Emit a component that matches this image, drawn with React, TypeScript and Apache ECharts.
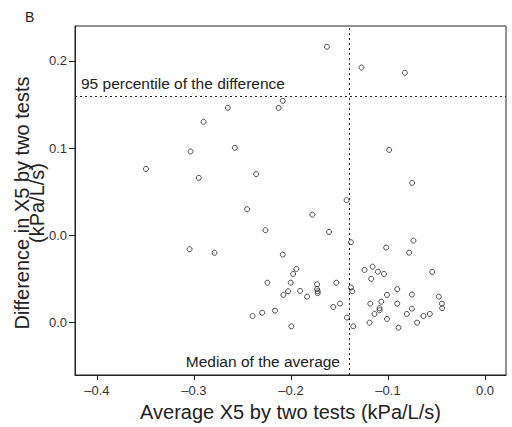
import React, { useEffect, useRef } from "react";
import * as echarts from "echarts";

const avgX = [
  -0.3495, -0.3035, -0.295, -0.2901, -0.2651, -0.2579, -0.2359, -0.2127, -0.2085, -0.1629,
  -0.1273, -0.0826, -0.0988, -0.0751, -0.1427, -0.178, -0.1608, -0.1382, -0.1019, -0.0738,
  -0.0782, -0.2452, -0.2263, -0.3045, -0.2788, -0.2085, -0.2243, -0.2078, -0.203, -0.2003,
  -0.1978, -0.1944, -0.1996, -0.2397, -0.2297, -0.2164, -0.1906, -0.1834, -0.1731, -0.1731,
  -0.1725, -0.1725, -0.1533, -0.1564, -0.1495, -0.1382, -0.1368, -0.1423, -0.1358, -0.1242,
  -0.1159, -0.1104, -0.1042, -0.1173, -0.0545, -0.0905, -0.1011, -0.0754, -0.0476, -0.1183,
  -0.107, -0.0905, -0.0445, -0.1087, -0.1087, -0.0754, -0.0442, -0.1139, -0.0806, -0.0635,
  -0.0569, -0.1011, -0.119, -0.07, -0.0892,
];
const diffY = [
  0.1381, 0.1481, 0.133, 0.1651, 0.1731, 0.1502, 0.1351, 0.1731, 0.1771, 0.2081,
  0.1962, 0.1932, 0.149, 0.1301, 0.1202, 0.1119, 0.102, 0.0961, 0.093, 0.097,
  0.0901, 0.115, 0.103, 0.0921, 0.09, 0.089, 0.0729, 0.0659, 0.068, 0.0729,
  0.0779, 0.0808, 0.0479, 0.0538, 0.0557, 0.0569, 0.0682, 0.0649, 0.072, 0.0693,
  0.068, 0.0669, 0.0729, 0.059, 0.0609, 0.0701, 0.068, 0.0529, 0.0479, 0.0802,
  0.0821, 0.0792, 0.0779, 0.0751, 0.0791, 0.0692, 0.0659, 0.0661, 0.0649, 0.0609,
  0.062, 0.0609, 0.0609, 0.0583, 0.0571, 0.058, 0.0583, 0.055, 0.055, 0.0538,
  0.055, 0.0521, 0.05, 0.05, 0.0471,
];

const xTickValues = [-0.4, -0.3, -0.2, -0.1, 0.0];
const xTickLabels = ["\u20130.4", "\u20130.3", "\u20130.2", "\u20130.1", "0.0"];
const yTickValues = [0.05, 0.1, 0.15, 0.2];
const yTickLabels = ["0.0", "0.0", "0.1", "0.2"];

const medianAverage = -0.1428;
const percentile95 = 0.1804;

const FONT = "'Liberation Sans', Arial, Helvetica, sans-serif";
const INK = "#222";

function nearestLabel(v: number, values: number[], labels: string[]) {
  let best = 0;
  for (let i = 1; i < values.length; i++) {
    if (Math.abs(values[i] - v) < Math.abs(values[best] - v)) best = i;
  }
  return labels[best];
}

export default function App() {
  const ref = useRef<HTMLDivElement>(null);
  useEffect(() => {
    document.body.style.margin = "0";
    const chart = echarts.init(ref.current!, undefined, { renderer: "svg" });
    const points = avgX.map((x, i) => [x, diffY[i]]);
    chart.setOption({
      animation: false,
      textStyle: { fontFamily: FONT },
      grid: {
        left: 75,
        top: 26,
        right: 6,
        bottom: 52,
        containLabel: false,
        outerBoundsMode: "none",
        show: true,
        borderColor: INK,
        borderWidth: 1,
        backgroundColor: "transparent",
      },
      xAxis: {
        type: "value",
        min: -0.4226,
        max: 0.0216,
        splitLine: { show: false },
        axisLine: { show: true, onZero: false, lineStyle: { color: INK, width: 1 } },
        axisTick: {
          show: true,
          length: 5,
          customValues: xTickValues,
          lineStyle: { color: INK, width: 1 },
        },
        axisLabel: {
          customValues: xTickValues,
          margin: 9,
          fontSize: 13,
          color: "#333",
          fontFamily: FONT,
          formatter: (v: number) => nearestLabel(v, xTickValues, xTickLabels),
        },
        name: "Average X5 by two tests (kPa/L/s)",
        nameLocation: "middle",
        nameGap: 27,
        nameTextStyle: { fontSize: 20, color: "#222", fontFamily: FONT },
      },
      yAxis: {
        type: "value",
        min: 0.02,
        max: 0.22,
        splitLine: { show: false },
        axisLine: { show: true, onZero: false, lineStyle: { color: INK, width: 1 } },
        axisTick: {
          show: true,
          length: 6,
          customValues: yTickValues,
          lineStyle: { color: INK, width: 1 },
        },
        axisLabel: {
          customValues: yTickValues,
          margin: 8,
          fontSize: 13,
          color: "#333",
          fontFamily: FONT,
          formatter: (v: number) => nearestLabel(v, yTickValues, yTickLabels),
        },
      },
      graphic: [
        {
          type: "text",
          left: 25,
          top: 10,
          style: { text: "B", fontSize: 14, fill: "#222", fontFamily: FONT },
        },
        {
          type: "text",
          x: 29,
          y: 203,
          rotation: Math.PI / 2,
          style: {
            text: "Difference in X5 by two tests\n(kPa/L/s)",
            fontSize: 20,
            lineHeight: 15,
            fill: "#222",
            fontFamily: FONT,
            align: "center",
            verticalAlign: "middle",
          },
        },
        {
          type: "text",
          x: 81,
          y: 83,
          style: {
            text: "95 percentile of the difference",
            fontSize: 15.5,
            fill: "#222",
            fontFamily: FONT,
            align: "left",
            verticalAlign: "middle",
          },
        },
        {
          type: "text",
          x: 340,
          y: 361,
          style: {
            text: "Median of the average",
            fontSize: 15.5,
            fill: "#222",
            fontFamily: FONT,
            align: "right",
            verticalAlign: "middle",
          },
        },
      ],
      series: [
        {
          type: "scatter",
          data: points,
          symbol: "circle",
          symbolSize: 5,
          itemStyle: { color: "rgba(0,0,0,0)", borderColor: INK, borderWidth: 1 },
          markLine: {
            silent: true,
            symbol: "none",
            label: { show: false },
            lineStyle: { color: INK, width: 1, type: [2, 3] },
            data: [{ xAxis: medianAverage }, { yAxis: percentile95 }],
          },
        },
      ],
    });
    return () => chart.dispose();
  }, []);
  return <div ref={ref} style={{ width: 512, height: 427 }} />;
}
